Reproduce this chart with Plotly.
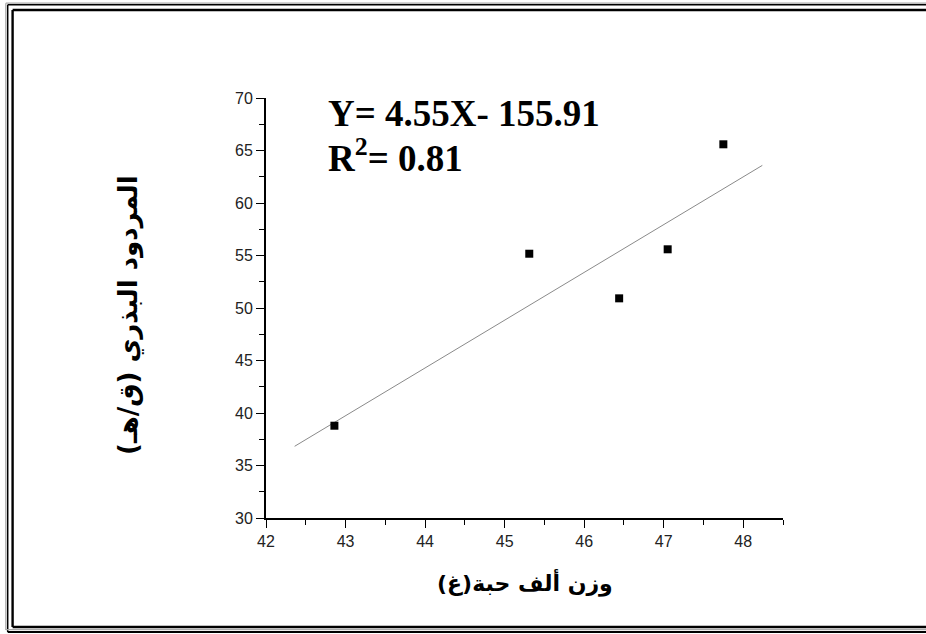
import plotly.graph_objects as go

# Thousand-grain weight (g) vs. seed yield (q/ha)
grain_weight = [42.86, 45.31, 46.44, 47.05, 47.75]
seed_yield = [38.79, 55.17, 50.92, 55.59, 65.59]

# Linear fit reported on the chart
slope = 4.55
intercept = -155.91
r_squared = 0.81
fit_x = [42.36, 48.24]
fit_y = [slope * x + intercept for x in fit_x]

x_ticks = [42, 43, 44, 45, 46, 47, 48]
y_ticks = [30, 35, 40, 45, 50, 55, 60, 65, 70]

W, H = 926, 634
L, R, T, B = 266, 143, 98, 116
PW, PH = W - L - R, H - T - B


def px(xp):
    return (xp - L) / PW


def py(yp):
    return (H - B - yp) / PH


fig = go.Figure()
fig.add_trace(go.Scatter(
    x=fit_x, y=fit_y, mode="lines",
    line=dict(color="#8a8a8a", width=1), hoverinfo="skip", showlegend=False,
))
fig.add_trace(go.Scatter(
    x=grain_weight, y=seed_yield, mode="markers",
    marker=dict(symbol="square", size=8, color="black"), showlegend=False,
))

axis_common = dict(
    showgrid=False, zeroline=False, showline=True, linecolor="black", linewidth=2,
    ticks="outside", ticklen=8, tickwidth=1.3, tickcolor="black",
    tickfont=dict(family="Liberation Sans, Arial", size=16, color="#222"),
)
fig.update_xaxes(
    range=[42, 48.5], tickvals=x_ticks, ticktext=[str(v) for v in x_ticks],
    minor=dict(dtick=0.5, ticks="outside", ticklen=5, tickwidth=1.3, tickcolor="black"),
    **axis_common,
)
fig.update_yaxes(
    range=[30, 70], tickvals=y_ticks, ticktext=[str(v) for v in y_ticks],
    minor=dict(dtick=2.5, ticks="outside", ticklen=5, tickwidth=1.3, tickcolor="black"),
    **axis_common,
)

serif = dict(family="Liberation Serif, Times New Roman", size=37, color="black")
arabic_x = dict(family="DejaVu Sans", size=22, color="black")
arabic_y = dict(family="DejaVu Sans", size=26, color="black")

annotations = [
    dict(text=f"<b>Y= {slope:.2f}X- {abs(intercept):.2f}</b>", x=px(326), y=py(113),
         xref="paper", yref="paper", xanchor="left", yanchor="middle",
         showarrow=False, font=serif),
    dict(text=f"<b>R<sup>2</sup>= {r_squared:.2f}</b>", x=px(326), y=py(156),
         xref="paper", yref="paper", xanchor="left", yanchor="middle",
         showarrow=False, font=serif),
    dict(text="<b>وزن ألف حبة(غ)</b>", x=px(525), y=py(582),
         xref="paper", yref="paper", xanchor="center", yanchor="middle",
         showarrow=False, font=arabic_x),
    dict(text="<b>المردود البذري (ق/هـ)</b>", x=px(128), y=py(315), textangle=-90,
         xref="paper", yref="paper", xanchor="center", yanchor="middle",
         showarrow=False, font=arabic_y),
]

# Decorative page frame
frame = []


def hline(x0, x1, y, color, w):
    frame.append(dict(type="line", xref="paper", yref="paper",
                      x0=px(x0), x1=px(x1), y0=py(y), y1=py(y),
                      line=dict(color=color, width=w)))


def vline(x, y0, y1, color, w):
    frame.append(dict(type="line", xref="paper", yref="paper",
                      x0=px(x), x1=px(x), y0=py(y0), y1=py(y1),
                      line=dict(color=color, width=w)))


# outer gray + black double rule
vline(5.8, 3.2, 630, "#a8a8a8", 1.2)
hline(5.8, 940, 3.2, "#a8a8a8", 1.2)
vline(7.7, 4.8, 632, "black", 1.5)
hline(7.7, 940, 4.8, "black", 1.5)
hline(5.8, 940, 629.6, "#a8a8a8", 1.2)
hline(7.7, 940, 632, "black", 1.8)
# inner heavy rule
vline(12.6, 10, 627, "black", 2.4)
hline(12.6, 940, 10, "black", 2.4)
hline(12.6, 940, 627, "black", 2.4)

fig.update_layout(
    width=W, height=H, margin=dict(l=L, r=R, t=T, b=B),
    paper_bgcolor="white", plot_bgcolor="white",
    annotations=annotations, shapes=frame,
)

fig.write_html("out.html")
